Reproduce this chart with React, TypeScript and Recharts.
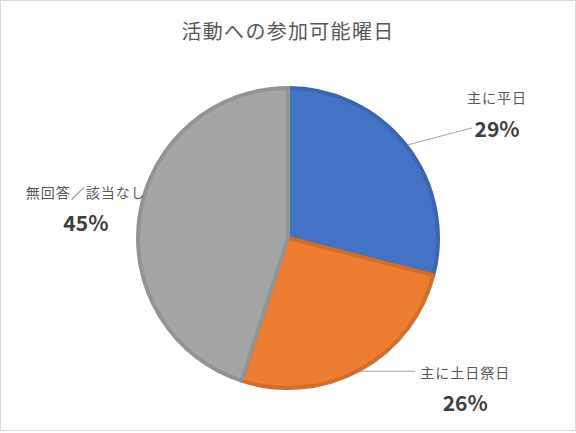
import { PieChart, Pie, Cell } from "recharts";

const categories = ["主に平日", "主に土日祭日", "無回答／該当なし"];
const shares = [29, 26, 45];
const fills = ["#4472C4", "#ED7D31", "#A5A5A5"];
const edges = ["#3C65AE", "#D16E2B", "#939393"];

// label offsets relative to the slice's outer edge point at its mid angle
const labelLayout = [
  { dx: 89, nameDy: -48, pctDy: -17, line: { dx: 64, dy: -17 } },
  { dx: 104, nameDy: 1, pctDy: 31, line: { dx: 54, dy: 0 } },
  { dx: -52, nameDy: -22, pctDy: 8, line: null },
];

const RAD = Math.PI / 180;
const FONT = '"Noto Sans CJK JP", "Noto Sans", sans-serif';

const rows = categories.map((name, i) => ({ name, value: shares[i] }));

function SliceLabel(props: any) {
  const { cx, cy, midAngle, outerRadius, index, name, value } = props;
  const r = outerRadius + 2;
  const ex = cx + r * Math.cos(-midAngle * RAD);
  const ey = cy + r * Math.sin(-midAngle * RAD);
  const lay = labelLayout[index];
  const tx = ex + lay.dx;
  return (
    <g>
      {lay.line && (
        <line x1={ex} y1={ey} x2={ex + lay.line.dx} y2={ey + lay.line.dy} stroke="#A6A6A6" strokeWidth={1} />
      )}
      <text x={tx} y={ey + lay.nameDy} textAnchor="middle" dominantBaseline="central" fill="#595959" fontSize={14} letterSpacing={1} fontFamily={FONT}>
        {name}
      </text>
      <text x={tx} y={ey + lay.pctDy} textAnchor="middle" dominantBaseline="central" fill="#404040" fontSize={21} fontWeight="bold" fontFamily={FONT}>
        {`${value}%`}
      </text>
    </g>
  );
}

export default function App() {
  return (
    <div
      style={{
        position: "relative",
        width: 576,
        height: 431,
        boxSizing: "border-box",
        border: "1px solid #D9D9D9",
        background: "#fff",
        fontFamily: FONT,
      }}
    >
      <style>{`body{margin:0}`}</style>
      <div
        style={{
          position: "absolute",
          top: 16,
          left: 0,
          width: "100%",
          textAlign: "center",
          fontSize: 20,
          letterSpacing: 1.3,
          color: "#595959",
          lineHeight: "28px",
        }}
      >
        活動への参加可能曜日
      </div>
      <PieChart
        width={574}
        height={429}
        margin={{ top: 0, right: 0, bottom: 0, left: 0 }}
        style={{ position: "absolute", top: 0, left: 0 }}
      >
        <Pie
          data={rows}
          dataKey="value"
          nameKey="name"
          cx={287}
          cy={237}
          outerRadius={150}
          startAngle={90}
          endAngle={-270}
          label={SliceLabel}
          labelLine={false}
          isAnimationActive={false}
        >
          {rows.map((_, i) => (
            <Cell key={i} fill={fills[i]} stroke={edges[i]} strokeWidth={4} />
          ))}
        </Pie>
      </PieChart>
    </div>
  );
}
